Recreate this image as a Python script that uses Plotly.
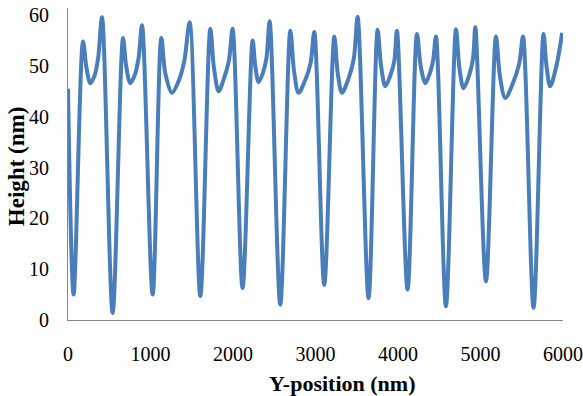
import plotly.graph_objects as go

y_position_nm = [
    0, 68, 182, 225, 270, 320, 365, 412,
    541, 667, 705, 755, 805, 855, 897,
    1026, 1131, 1180, 1260, 1340, 1410, 1474,
    1604, 1725, 1770, 1826, 1890, 1950, 1995,
    2116, 2238, 2270, 2310, 2360, 2405, 2444,
    2573, 2695, 2740, 2795, 2870, 2940, 2985,
    3106, 3228, 3270, 3321, 3400, 3465, 3510,
    3643, 3753, 3795, 3846, 3905, 3955, 3987,
    4116, 4230, 4275, 4331, 4385, 4425, 4460,
    4581, 4703, 4745, 4795, 4860, 4910, 4937,
    5066, 5188, 5235, 5300, 5390, 5470, 5515,
    5643, 5764, 5800, 5845, 5920, 5990,
]
height_nm = [
    45.5, 5.0, 54.8, 49.5, 46.6, 48.0, 51.5, 59.6,
    1.4, 55.5, 50.0, 46.6, 48.0, 51.5, 58.0,
    5.0, 55.5, 48.5, 44.7, 47.0, 51.0, 58.6,
    4.7, 57.3, 49.5, 45.0, 47.5, 51.0, 57.3,
    6.3, 55.0, 50.0, 46.8, 48.5, 51.5, 58.8,
    3.0, 56.9, 49.0, 44.7, 47.0, 50.5, 56.7,
    6.9, 55.8, 48.5, 44.7, 47.5, 51.5, 59.7,
    4.3, 57.1, 50.0, 46.0, 48.0, 51.0, 56.9,
    6.0, 56.3, 50.0, 46.6, 48.5, 51.0, 55.8,
    2.7, 57.2, 49.5, 45.6, 48.0, 51.5, 57.6,
    7.6, 55.8, 48.0, 43.7, 46.5, 50.5, 55.8,
    2.4, 56.3, 50.0, 46.0, 50.0, 56.5,
]

x_ticks = [0, 1000, 2000, 3000, 4000, 5000, 6000]
y_ticks = [0, 10, 20, 30, 40, 50, 60]
x_title = "Y-position (nm)"
y_title = "Height (nm)"

fig = go.Figure(
    go.Scatter(
        x=y_position_nm,
        y=height_nm,
        mode="lines",
        line=dict(color="#4A7EBB", width=4, shape="spline", smoothing=0.9),
        hoverinfo="skip",
    )
)

serif = "Liberation Serif, Times New Roman, serif"

fig.update_layout(
    width=583,
    height=396,
    margin=dict(l=68, r=20, t=8, b=76, autoexpand=False),
    paper_bgcolor="white",
    plot_bgcolor="white",
    showlegend=False,
    font=dict(family=serif, color="black", size=20),
    annotations=[
        dict(
            text="<b>" + x_title + "</b>",
            xref="paper", yref="paper",
            x=0.555, y=-0.202,
            xanchor="center", yanchor="middle",
            showarrow=False,
            font=dict(family=serif, size=22, color="black"),
        ),
        dict(
            text="<b>" + y_title + "</b>",
            xref="paper", yref="paper",
            x=-0.105, y=0.49,
            xanchor="center", yanchor="middle",
            textangle=-90,
            showarrow=False,
            font=dict(family=serif, size=23, color="black"),
        ),
    ],
)

fig.update_xaxes(
    range=[0, 6000],
    tickvals=x_ticks,
    ticktext=[str(v) for v in x_ticks],
    showgrid=False,
    zeroline=False,
    showline=True,
    linecolor="#868686",
    linewidth=1,
    ticks="",
    automargin=False,
    ticklabelstandoff=16,
    tickfont=dict(family=serif, size=20, color="black"),
)

fig.update_yaxes(
    range=[0, 61.4],
    tickvals=y_ticks,
    ticktext=[str(v) for v in y_ticks],
    showgrid=False,
    zeroline=False,
    showline=True,
    linecolor="#868686",
    linewidth=1,
    ticks="",
    automargin=False,
    ticklabelstandoff=14,
    tickfont=dict(family=serif, size=20, color="black"),
)

fig.write_html(
    "out.html",
    config={"displayModeBar": False},
    post_script="document.body.style.margin='0';document.body.style.padding='0';",
)
